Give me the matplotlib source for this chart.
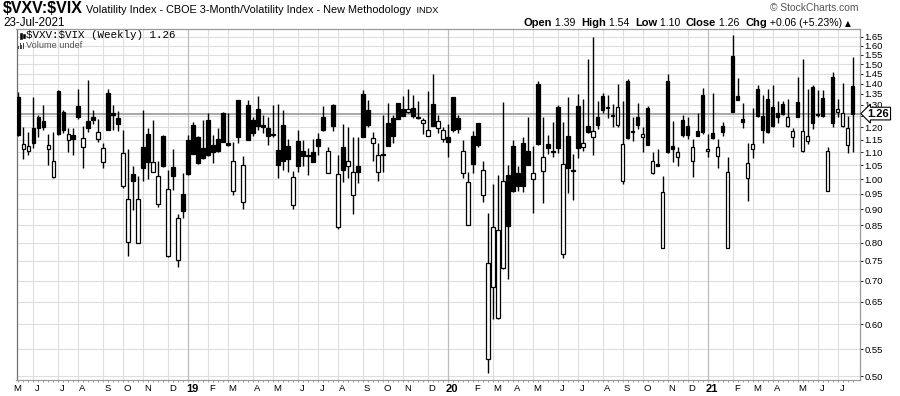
import numpy as np
import pandas as pd
import matplotlib
matplotlib.use("Agg")
import matplotlib.pyplot as plt
from matplotlib.ticker import FixedLocator, NullLocator
import matplotlib.transforms as mtransforms
from matplotlib.patches import Rectangle

# ---------------- data (weekly OHLC, $VXV:$VIX) ----------------
dates = pd.date_range(end="2021-07-23", periods=168, freq="W-FRI")

opens = [1.335, 1.112, 1.105, 1.196, 1.244, 1.228, 1.112, 1.007, 1.363, 1.267,
         1.148, 1.169, 1.294, 1.122, 1.228, 1.246, 1.151, 1.061, 1.355, 1.262,
         1.240, 0.975, 0.801, 1.017, 0.800, 1.119, 1.173, 1.027, 0.918, 1.166,
         0.762, 1.043, 0.753, 0.949, 1.149, 1.212, 1.162, 1.116, 1.234, 1.130,
         1.151, 1.262, 1.136, 0.959, 1.320, 0.924, 1.298, 1.230, 1.280, 1.210,
         1.196, 1.173, 1.107, 1.212, 1.125, 0.913, 1.145, 1.106, 1.091, 1.100,
         1.152, 1.247, 1.024, 1.300, 0.846, 1.119, 1.049, 0.945, 1.048, 1.350,
         1.277, 1.136, 1.027, 1.093, 1.217, 1.240, 1.307, 1.280, 1.267, 1.283,
         1.244, 1.218, 1.165, 1.305, 1.199, 1.151, 1.159, 1.334, 1.240, 1.021,
         0.851, 1.165, 1.218, 0.947, 0.531, 0.684, 0.613, 0.731, 1.015, 1.124,
         1.024, 1.136, 1.103, 1.000, 1.398, 1.030, 1.132, 1.105, 1.291, 0.768,
         1.165, 1.033, 1.294, 1.120, 1.206, 1.162, 1.244, 1.341, 1.289, 1.255,
         1.210, 0.995, 1.413, 1.185, 1.244, 1.159, 1.284, 1.021, 1.054, 0.786,
         1.413, 1.124, 1.081, 1.232, 1.206, 1.067, 1.185, 1.345, 1.103, 1.176,
         1.086, 1.206, 0.785, 1.543, 1.341, 1.237, 1.004, 1.111, 1.372, 1.250,
         1.327, 1.289, 1.262, 1.302, 1.207, 1.162, 1.311, 1.103, 1.146, 1.382,
         1.256, 1.330, 0.959, 1.432, 1.266, 1.207, 1.129, 1.390]

highs = [1.358, 1.200, 1.180, 1.337, 1.254, 1.298, 1.173, 1.180, 1.370, 1.277,
         1.196, 1.196, 1.374, 1.206, 1.420, 1.277, 1.235, 1.138, 1.373, 1.300,
         1.270, 1.190, 1.113, 1.048, 1.010, 1.277, 1.196, 1.232, 1.068, 1.168,
         1.032, 1.112, 0.886, 1.022, 1.169, 1.222, 1.165, 1.234, 1.264, 1.169,
         1.196, 1.265, 1.262, 1.142, 1.322, 1.087, 1.320, 1.247, 1.340, 1.254,
         1.247, 1.300, 1.305, 1.277, 1.151, 1.030, 1.190, 1.149, 1.116, 1.151,
         1.176, 1.292, 1.119, 1.302, 1.090, 1.214, 1.203, 1.162, 1.162, 1.370,
         1.320, 1.182, 1.136, 1.254, 1.307, 1.254, 1.310, 1.340, 1.373, 1.343,
         1.318, 1.240, 1.366, 1.450, 1.254, 1.203, 1.215, 1.336, 1.254, 1.149,
         1.027, 1.185, 1.220, 1.067, 0.888, 0.984, 1.016, 1.314, 1.051, 1.149,
         1.048, 1.162, 1.247, 1.124, 1.413, 1.247, 1.168, 1.222, 1.299, 1.225,
         1.338, 1.094, 1.350, 1.327, 1.525, 1.652, 1.317, 1.357, 1.345, 1.303,
         1.398, 1.317, 1.421, 1.247, 1.306, 1.200, 1.295, 1.099, 1.113, 1.010,
         1.448, 1.229, 1.120, 1.254, 1.244, 1.151, 1.262, 1.377, 1.171, 1.353,
         1.151, 1.222, 1.081, 1.662, 1.427, 1.306, 1.136, 1.284, 1.393, 1.345,
         1.372, 1.393, 1.319, 1.317, 1.325, 1.199, 1.432, 1.525, 1.372, 1.393,
         1.368, 1.368, 1.120, 1.459, 1.327, 1.403, 1.250, 1.540]

lows = [1.165, 1.075, 1.088, 1.118, 1.162, 1.190, 1.050, 1.005, 1.170, 1.178,
        1.100, 1.088, 1.238, 1.041, 1.182, 1.215, 1.142, 1.040, 1.188, 1.190,
        1.187, 0.969, 0.762, 0.898, 0.798, 0.995, 1.001, 1.025, 0.907, 1.045,
        0.760, 0.964, 0.735, 0.871, 1.016, 1.093, 1.055, 1.075, 1.087, 1.058,
        1.100, 1.140, 1.125, 0.945, 1.135, 0.901, 1.148, 1.165, 1.190, 1.176,
        1.129, 1.160, 1.005, 1.032, 1.027, 0.901, 1.027, 1.048, 1.016, 1.062,
        1.091, 1.185, 1.023, 1.185, 0.840, 0.991, 1.003, 0.886, 0.986, 1.160,
        1.200, 1.068, 0.995, 1.027, 1.123, 1.136, 1.236, 1.248, 1.263, 1.240,
        1.238, 1.173, 1.163, 1.205, 1.176, 1.142, 1.083, 1.182, 1.176, 1.004,
        0.850, 1.021, 1.122, 0.922, 0.505, 0.611, 0.612, 0.730, 0.703, 0.955,
        0.958, 0.955, 1.050, 0.888, 1.130, 0.920, 1.092, 1.083, 1.096, 0.757,
        0.952, 0.928, 1.079, 1.103, 1.176, 1.090, 1.192, 1.262, 1.240, 1.203,
        1.203, 0.984, 1.151, 1.146, 1.192, 1.099, 1.128, 1.017, 1.046, 0.785,
        1.096, 1.064, 1.046, 1.159, 1.151, 1.007, 1.164, 1.173, 1.083, 1.151,
        1.040, 1.165, 0.784, 1.265, 1.321, 1.199, 0.925, 1.077, 1.247, 1.138,
        1.178, 1.203, 1.220, 1.254, 1.203, 1.122, 1.243, 1.102, 1.132, 1.192,
        1.244, 1.244, 0.958, 1.203, 1.244, 1.203, 1.096, 1.100]

closes = [1.169, 1.132, 1.124, 1.136, 1.196, 1.203, 1.128, 1.066, 1.173, 1.190,
          1.173, 1.151, 1.244, 1.156, 1.199, 1.232, 1.180, 1.116, 1.190, 1.254,
          1.215, 1.096, 0.932, 0.995, 0.932, 1.039, 1.061, 1.064, 1.011, 1.046,
          0.966, 1.012, 0.871, 0.893, 1.020, 1.094, 1.058, 1.077, 1.088, 1.100,
          1.103, 1.142, 1.128, 1.066, 1.162, 1.053, 1.149, 1.176, 1.206, 1.203,
          1.166, 1.170, 1.051, 1.066, 1.075, 1.007, 1.048, 1.087, 1.084, 1.064,
          1.126, 1.190, 1.106, 1.207, 1.017, 1.032, 1.066, 1.025, 1.027, 1.162,
          1.210, 1.156, 1.091, 1.088, 1.125, 1.165, 1.238, 1.250, 1.281, 1.250,
          1.240, 1.230, 1.190, 1.207, 1.228, 1.189, 1.142, 1.189, 1.192, 1.105,
          0.990, 1.054, 1.129, 1.033, 0.744, 0.844, 0.836, 0.994, 0.849, 0.958,
          0.975, 0.975, 1.051, 1.021, 1.132, 1.081, 1.118, 1.100, 1.118, 1.054,
          1.042, 1.031, 1.115, 1.136, 1.182, 1.185, 1.210, 1.274, 1.283, 1.250,
          1.288, 1.132, 1.158, 1.179, 1.212, 1.171, 1.129, 1.065, 1.049, 0.956,
          1.099, 1.111, 1.099, 1.169, 1.169, 1.120, 1.165, 1.179, 1.113, 1.155,
          1.120, 1.182, 1.025, 1.269, 1.322, 1.225, 1.058, 1.132, 1.250, 1.189,
          1.182, 1.206, 1.244, 1.259, 1.244, 1.185, 1.244, 1.185, 1.166, 1.220,
          1.254, 1.250, 1.106, 1.218, 1.279, 1.262, 1.196, 1.260]

yticks = [0.50, 0.55, 0.60, 0.65, 0.70, 0.75, 0.80, 0.85, 0.90, 0.95, 1.00,
          1.05, 1.10, 1.15, 1.20, 1.25, 1.30, 1.35, 1.40, 1.45, 1.50, 1.55,
          1.60, 1.65]

# ---------------- figure ----------------
W, H = 900, 396
fig = plt.figure(figsize=(W / 100, H / 100), dpi=100)
fig.patch.set_facecolor("white")

def fx(px):
    return px / W

def fy(py):
    return 1 - py / H

ax_l, ax_r, ax_t, ax_b = 16.5, 860, 29, 380
ax = fig.add_axes([fx(ax_l), fy(ax_b), fx(ax_r - ax_l), (ax_b - ax_t) / H])
ax.set_facecolor("white")

O = np.array(opens); Hh = np.array(highs); L = np.array(lows); C = np.array(closes)
n = len(O)
x = np.arange(n)
top = np.maximum(O, C)
bot = np.minimum(O, C)
Hh = np.maximum(Hh, top)
L = np.minimum(L, bot)

ax.set_yscale("log")
ax.set_ylim(0.4933, 1.697)
ax.set_xlim(-0.36, 168.5)

# grid lines
for v in yticks:
    ax.axhline(v, color="#dedede", lw=0.8, zorder=0.5)

# month grid lines and labels
month_pos, month_lab, month_year = [], [], []
prev = None
for i, d in enumerate(dates):
    key = (d.year, d.month)
    if key != prev:
        pos = i - (d.day - 1) // 7
        month_pos.append(pos)
        if d.month == 1:
            month_lab.append(str(d.year)[2:])
            month_year.append(True)
        else:
            month_lab.append(d.strftime("%b")[0])
            month_year.append(False)
        prev = key
for p, isy in zip(month_pos, month_year):
    ax.axvline(p, color="#bdbdbd" if isy else "#dedede", lw=0.9 if isy else 0.8, zorder=0.5)

# last price line
ax.axhline(C[-1], color="#a0a0a0", lw=1.3, zorder=1)

# candles
ax.vlines(x, L, Hh, color="black", lw=1.0, zorder=2)
up = C >= O
hgt = np.maximum(top - bot, 0.0008)
ax.bar(x[up], hgt[up], bottom=bot[up], width=0.7, facecolor="white",
       edgecolor="black", linewidth=0.9, zorder=3)
ax.bar(x[~up], hgt[~up], bottom=bot[~up], width=0.7, facecolor="black",
       edgecolor="black", linewidth=0.9, zorder=3)

# axes styling
for s in ["top", "bottom", "left", "right"]:
    ax.spines[s].set_color("#9a9a9a")
    ax.spines[s].set_linewidth(0.9)
ax.spines["left"].set_color("#707070")

ax.yaxis.tick_right()
ax.yaxis.set_major_locator(FixedLocator(yticks))
ax.yaxis.set_minor_locator(NullLocator())
# the label nearest the last value is covered by the last-value marker
ylabels = ["" if abs(v - C[-1]) < 0.03 else f"{v:.2f}" for v in yticks]
ax.set_yticklabels(ylabels)
ax.tick_params(axis="y", which="major", length=2, width=0.7, pad=1.2,
               labelsize=6.8, colors="#222222", labelcolor="black")
for t in ax.get_yticklabels():
    t.set_fontfamily("Liberation Sans")

lab_pos = [p + 0.85 for p in month_pos]
ax.set_xticks(lab_pos)
ax.set_xticklabels(month_lab)
ax.set_xticks(x, minor=True)
ax.tick_params(axis="x", which="major", length=0, pad=3, labelsize=6.8)
ax.tick_params(axis="x", which="minor", length=1.5, width=0.6, color="#888888")
for t, isy in zip(ax.get_xticklabels(), month_year):
    t.set_fontfamily("Liberation Sans")
    if isy:
        t.set_fontweight("bold")
        t.set_fontsize(8)

# last value marker
trans = mtransforms.blended_transform_factory(ax.transAxes, ax.transData)
ax.text(1.009, C[-1], f"{C[-1]:.2f}", transform=trans, ha="left", va="center",
        fontsize=8, fontweight="bold", family="Liberation Sans", zorder=10,
        bbox=dict(boxstyle="larrow,pad=0.12", fc="white", ec="black", lw=0.8),
        clip_on=False)

# ---------------- header texts ----------------
renderer = fig.canvas.get_renderer()

def runs(parts, x0, y0, align="left"):
    objs = []
    for s, kw in parts:
        t = fig.text(0, 0, s, va="baseline", ha="left", **kw)
        objs.append(t)
    widths = [t.get_window_extent(renderer).width for t in objs]
    total = sum(widths)
    cur = x0 if align == "left" else x0 - total
    for t, w in zip(objs, widths):
        t.set_position((fx(cur), fy(y0)))
        cur += w

sans = "Liberation Sans"
runs([("\\$VXV:\\$VIX", dict(fontsize=11.5, fontweight="bold", family=sans)),
      (" Volatility Index - CBOE 3-Month/Volatility Index - New Methodology ",
       dict(fontsize=7.8, family=sans)),
      (" INDX", dict(fontsize=6.6, family=sans))], 3, 13.3)
fig.text(fx(3), fy(26.3), "23-Jul-2021", fontsize=8.4, family=sans,
         va="baseline", ha="left")

fig.text(fx(858), fy(11.3), "\u00a9 StockCharts.com", fontsize=7.4, family=sans,
         color="#555555", va="baseline", ha="right")
runs([("Open", dict(fontsize=8.0, fontweight="bold", family=sans)),
      (" 1.39  ", dict(fontsize=7.6, family=sans)),
      ("High", dict(fontsize=8.0, fontweight="bold", family=sans)),
      (" 1.54  ", dict(fontsize=7.6, family=sans)),
      ("Low", dict(fontsize=8.0, fontweight="bold", family=sans)),
      (" 1.10  ", dict(fontsize=7.6, family=sans)),
      ("Close", dict(fontsize=8.0, fontweight="bold", family=sans)),
      (" 1.26  ", dict(fontsize=7.6, family=sans)),
      ("Chg", dict(fontsize=8.0, fontweight="bold", family=sans)),
      (" +0.06 (+5.23%) ", dict(fontsize=7.6, family=sans)),
      ("\u25b2", dict(fontsize=5.5, family="DejaVu Sans"))], 851, 26.3, align="right")

# legend inside the plot
fig.text(fx(26), fy(35.5), "\\$VXV:\\$VIX (Weekly) 1.26", fontsize=7.8,
         family="Liberation Mono", va="center", ha="left")
fig.text(fx(25.5), fy(45.5), "Volume undef", fontsize=6.6, family=sans,
         color="#555555", va="center", ha="left")
# small icons
for (xx, y1, y2) in [(19.5, 32.5, 38.5), (22.5, 33.5, 38.0)]:
    fig.add_artist(Rectangle((fx(xx), fy(y2)), fx(2), (y2 - y1) / H,
                             transform=fig.transFigure, fc="black", ec="black", lw=0.4))
for k, hh in enumerate([3, 5, 4, 6]):
    fig.add_artist(Rectangle((fx(18 + k * 1.6), fy(48.5)), fx(1.0), hh / H,
                             transform=fig.transFigure, fc="#444444", ec="none"))

fig.savefig("out.png", dpi=100, facecolor="white")
